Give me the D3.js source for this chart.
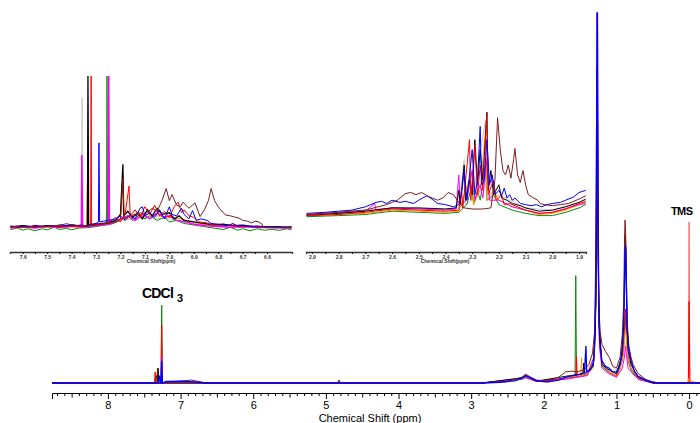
<!DOCTYPE html>
<html>
<head>
<meta charset="utf-8">
<script src="https://cdn.jsdelivr.net/npm/d3@7"></script>
<style>
  body { margin: 0; background: #fff; }
  svg { display: block; font-family: "Liberation Sans", Arial, sans-serif; }
</style>
</head>
<body>
<div id="chart"></div>
<script>
// ---- data: [ppm, intensity] ----
// main spectrum (intensity in % of the 1.26 ppm peak)
let mainTms = [[0.01,0],[0.0,43.5],[-0.01,0]];
let mainGreen = [[8.77,0],[7.27,0],[7.26,21],[7.25,0],[6.65,0],[2.85,0],[2.3,1],[2.25,1.5],[2.1,0.4],[1.7,1.2],[1.57,1.6],[1.56,29],[1.55,1.6],[1.4,2.2],[1.31,6],[1.28,22],[1.268,50],[1.262,65],[1.255,40],[1.24,14],[1.2,4.5],[1.1,2.8],[1.0,1.8],[0.92,6],[0.89,12],[0.875,18],[0.86,12],[0.84,6],[0.8,3.5],[0.7,1],[0.5,0],[-0.15,0]];
let mainRed = [[8.77,0],[7.36,0],[7.35,3],[7.34,0],[7.27,0],[7.26,15.7],[7.25,0],[7.0,0.4],[6.65,0],[4.83,0],[4.82,0.6],[4.81,0],[2.85,0],[2.3,1.2],[2.25,1.8],[2.1,0.5],[1.7,1.3],[1.56,1.8],[1.55,7.3],[1.54,1.8],[1.4,2.5],[1.31,7],[1.28,25],[1.268,55],[1.262,70],[1.255,45],[1.24,16],[1.2,5],[1.1,3],[1.0,2],[0.92,7],[0.89,14],[0.875,20],[0.86,14],[0.84,7],[0.8,4],[0.7,1.2],[0.5,0],[0.01,0],[0.0,22],[-0.01,0],[-0.15,0]];
let mainOrange = [[8.77,0],[7.33,0],[7.32,4],[7.31,0],[7.0,0.3],[6.65,0],[2.85,0],[2.3,1.2],[2.25,1.8],[2.1,0.5],[1.95,0.2],[1.7,1.2],[1.6,1.8],[1.49,2],[1.48,6.8],[1.47,2],[1.4,2.5],[1.32,4],[1.29,15],[1.27,55],[1.264,75],[1.258,70],[1.25,35],[1.235,12],[1.2,5],[1.1,3],[1.0,1.8],[0.95,3.5],[0.9,8],[0.88,14],[0.865,13],[0.845,7],[0.8,4],[0.7,1.3],[0.5,0],[0.02,0],[0.01,1.2],[0,0.5],[-0.15,0]];
let mainMagenta = [[8.77,0],[7.27,0],[7.26,6.8],[7.25,0],[6.65,0],[2.85,0],[2.25,1.4],[2.1,0.4],[1.7,1],[1.4,2],[1.31,6],[1.28,25],[1.266,100],[1.26,100],[1.252,35],[1.235,10],[1.2,4],[1.1,2.5],[1.0,1.5],[0.92,4],[0.89,7],[0.875,10],[0.86,7],[0.84,4],[0.8,3],[0.7,1],[0.5,0],[-0.15,0]];
let mainBlack = [[8.77,0],[7.32,0],[7.31,4],[7.3,0],[6.65,0],[2.85,0],[2.3,1.4],[2.25,2.1],[2.1,0.5],[1.7,1.8],[1.46,2.5],[1.45,5.4],[1.44,2.5],[1.32,4.5],[1.29,14],[1.275,40],[1.268,85],[1.262,84],[1.255,45],[1.24,16],[1.2,5],[1.1,3.5],[1.0,2.5],[0.93,7],[0.9,16],[0.885,35],[0.878,40],[0.87,36],[0.86,20],[0.84,9],[0.8,5],[0.7,1.5],[0.5,0],[-0.15,0]];
let mainBrown = [[8.77,0],[7.35,0],[7.33,2],[7.32,0],[7.0,0.5],[6.85,0.8],[6.65,0],[4.84,0],[4.82,0.8],[4.8,0],[2.85,0],[2.5,0.4],[2.3,1.6],[2.25,2.4],[2.2,1.8],[2.1,0.8],[1.95,0.5],[1.8,1.5],[1.7,3],[1.62,3.2],[1.55,3],[1.45,3.5],[1.38,5],[1.33,8],[1.3,14],[1.285,35],[1.275,70],[1.27,77],[1.262,75],[1.255,45],[1.245,22],[1.225,14],[1.2,10.5],[1.15,8.5],[1.1,7],[1.05,4.5],[1.0,4],[0.95,7],[0.92,13],[0.9,22],[0.888,40],[0.882,44],[0.875,42],[0.865,30],[0.85,16],[0.83,10],[0.8,7],[0.77,5],[0.7,2.5],[0.6,1],[0.5,0.3],[0.4,0],[-0.15,0]];
let mainBlue = [[8.77,0],[7.31,0],[7.29,2],[7.28,0],[7.27,0],[7.26,6],[7.25,0],[7.2,0.4],[7.0,0.5],[6.8,0.3],[6.65,0],[2.85,0],[2.6,0.2],[2.4,0.6],[2.3,1.3],[2.25,1.9],[2.2,1.5],[2.1,0.6],[1.95,0.3],[1.8,0.8],[1.7,1.5],[1.6,2],[1.5,2.4],[1.44,2.8],[1.42,10],[1.41,3],[1.36,3.5],[1.32,5],[1.3,10],[1.285,25],[1.275,55],[1.268,100],[1.262,100],[1.255,55],[1.245,25],[1.23,11],[1.2,6],[1.15,4.5],[1.1,4],[1.05,3],[1.0,3],[0.95,5],[0.92,9],[0.9,16],[0.885,30],[0.878,37],[0.872,36],[0.865,28],[0.85,14],[0.83,9],[0.8,6],[0.75,3],[0.7,1.8],[0.6,0.8],[0.5,0.2],[0.45,0],[-0.15,0]];

// aromatic inset 7.65 - 6.5 ppm
let aroGray = [[7.65,0.5],[7.5,0.8],[7.36,1],[7.358,1],[7.357,85.5],[7.355,1],[7.3,2],[7.26,3],[7.255,13],[7.25,3],[7.2,5],[7.1,7],[7.0,6],[6.9,3],[6.8,1],[6.65,0.5],[6.5,0]];
let aroGreen = [[7.65,-1],[7.62,0],[7.6,-1.5],[7.58,-0.5],[7.55,-1.8],[7.52,-0.5],[7.5,-1.2],[7.47,0.5],[7.45,-1],[7.42,-0.2],[7.4,-1.2],[7.37,0],[7.358,0],[7.357,26],[7.355,0],[7.32,0.5],[7.28,1.5],[7.257,2],[7.255,100],[7.253,2],[7.23,3],[7.2,5],[7.17,8],[7.15,5],[7.12,9],[7.1,6],[7.08,8],[7.05,5],[7.02,7],[7.0,4],[6.97,5],[6.94,3],[6.9,2],[6.86,1],[6.82,0],[6.78,-1],[6.75,0.5],[6.72,-1.5],[6.7,-0.5],[6.67,-1.8],[6.64,-0.5],[6.61,-1.5],[6.58,-0.8],[6.55,-1.6],[6.52,-0.5],[6.5,-1.2]];
let aroOrange = [[7.65,0],[7.5,0.5],[7.34,1],[7.334,35],[7.33,1],[7.26,2.5],[7.2,5],[7.188,34],[7.185,5],[7.15,8],[7.1,9],[7.05,8],[7.0,7],[6.95,6],[6.9,4],[6.85,2],[6.8,1],[6.7,0.5],[6.5,0]];
let aroMagenta = [[7.65,0],[7.6,0.8],[7.55,0],[7.5,1],[7.45,0.3],[7.4,1.2],[7.36,0.5],[7.358,48],[7.355,0.5],[7.3,1.5],[7.25,2.5],[7.248,100],[7.245,2.5],[7.22,4],[7.2,6],[7.17,8],[7.14,5],[7.11,9],[7.08,6],[7.05,10],[7.02,7],[7.0,8],[6.97,5],[6.93,4],[6.9,2.5],[6.85,1.5],[6.8,1],[6.75,0.5],[6.7,0.8],[6.6,0.3],[6.5,0]];
let aroBlack = [[7.65,0.8],[7.6,1.5],[7.55,0.8],[7.5,1.6],[7.45,1],[7.4,1.8],[7.36,1.2],[7.335,1.5],[7.333,100],[7.33,1.5],[7.3,2.5],[7.25,3.5],[7.22,5],[7.2,9],[7.19,42],[7.187,8],[7.17,11],[7.15,7],[7.13,10],[7.11,6],[7.09,12],[7.07,8],[7.05,13],[7.03,9],[7.0,10],[6.98,6],[6.96,8],[6.94,5],[6.9,4],[6.86,3],[6.82,2],[6.78,2.5],[6.74,1.5],[6.7,1.8],[6.66,1],[6.6,0.8],[6.55,0.5],[6.5,0.5]];
let aroRed = [[7.65,0.5],[7.62,1.2],[7.58,0.5],[7.55,1.5],[7.52,0.8],[7.48,1.3],[7.45,0.6],[7.42,1.5],[7.38,1],[7.34,1.5],[7.322,1.5],[7.32,100],[7.318,1.5],[7.29,2.5],[7.26,3],[7.24,4.5],[7.22,7],[7.2,4],[7.18,10],[7.165,27.6],[7.16,8],[7.14,12],[7.12,7],[7.1,14],[7.08,9],[7.06,15],[7.04,8],[7.02,11],[7.0,7],[6.98,14],[6.964,17],[6.95,10],[6.94,12],[6.92,8],[6.9,7],[6.88,4],[6.85,3.5],[6.82,2],[6.78,1.5],[6.74,2],[6.7,1],[6.66,1.2],[6.62,0.5],[6.58,0.8],[6.54,0.3],[6.5,0.5]];
let aroBlue = [[7.65,1.5],[7.62,0.5],[7.6,1.2],[7.57,0.8],[7.55,1.8],[7.52,1],[7.5,1.5],[7.47,1.2],[7.45,2],[7.42,1.5],[7.4,2.2],[7.38,1.6],[7.36,2],[7.34,1.5],[7.32,2.5],[7.3,3],[7.29,4],[7.288,56],[7.285,4],[7.27,4.5],[7.25,5],[7.22,6],[7.2,8],[7.18,5],[7.16,9],[7.14,6],[7.12,13],[7.11,14],[7.1,8],[7.08,10],[7.06,7],[7.04,12],[7.02,6],[7.0,14],[6.99,9],[6.97,8],[6.95,13],[6.94,9],[6.92,6],[6.905,11.5],[6.89,5],[6.87,6],[6.845,5],[6.83,3],[6.8,2.5],[6.78,2],[6.76,1.5],[6.74,3],[6.72,1.2],[6.7,1.5],[6.67,1],[6.64,1.3],[6.6,0.8],[6.56,1],[6.52,0.6],[6.5,0.8]];
let aroBrown = [[7.65,1],[7.6,0.5],[7.55,1.2],[7.5,1],[7.45,1.8],[7.42,2.8],[7.4,2],[7.36,1.5],[7.3,2],[7.25,3],[7.22,4],[7.2,6],[7.19,33],[7.185,6],[7.16,8],[7.12,10],[7.1,9],[7.07,13],[7.05,11],[7.03,18],[7.013,26],[7.0,18],[6.989,22],[6.97,15],[6.955,14],[6.944,17],[6.92,13],[6.895,16.5],[6.874,7.5],[6.855,12.5],[6.84,18],[6.829,26],[6.815,18],[6.8,14],[6.79,12],[6.77,8.5],[6.75,8],[6.739,7.5],[6.715,6.5],[6.7,5],[6.68,4.5],[6.663,3.3],[6.649,4.5],[6.637,4.2],[6.62,2.5],[6.616,0.5],[6.57,0.3],[6.5,0.2]];

// aliphatic inset 2.92 - 1.875 ppm
let aliGray = [[2.92,5],[2.6,11],[2.4,10],[2.35,11],[2.33,55],[2.325,14],[2.3,18],[2.25,91],[2.245,18],[2.2,23],[2.1,11],[2.0,9],[1.875,18]];
let aliGreen = [[2.92,3],[2.8,4],[2.7,5],[2.6,8],[2.5,7],[2.4,6],[2.35,7],[2.32,14],[2.3,32],[2.295,14],[2.28,27],[2.27,18],[2.25,50],[2.245,18],[2.22,23],[2.2,14],[2.15,9],[2.1,6],[2.05,4],[2.0,4],[1.95,7],[1.9,11],[1.875,14]];
let aliOrange = [[2.92,4],[2.7,6],[2.6,9],[2.5,8],[2.4,7],[2.35,8],[2.3,45],[2.295,14],[2.27,27],[2.25,82],[2.245,18],[2.22,27],[2.2,18],[2.15,12],[2.1,9],[2.05,5],[2.0,6],[1.95,9],[1.9,14],[1.875,16]];
let aliMagenta = [[2.92,5],[2.7,8],[2.665,15],[2.66,9],[2.6,11],[2.5,10],[2.4,9],[2.36,10],[2.35,41],[2.345,14],[2.32,18],[2.3,45],[2.29,18],[2.27,32],[2.26,20],[2.245,55],[2.235,18],[2.2,18],[2.15,12],[2.1,9],[2.05,6],[2.0,7],[1.9,14],[1.875,15]];
let aliBlack = [[2.92,4],[2.8,6],[2.7,8],[2.6,11],[2.5,11],[2.4,10],[2.36,11],[2.35,27],[2.345,14],[2.33,50],[2.325,18],[2.31,36],[2.3,23],[2.29,73],[2.28,32],[2.27,64],[2.26,36],[2.245,98],[2.24,27],[2.23,45],[2.22,23],[2.2,32],[2.19,20],[2.17,18],[2.15,15],[2.12,13],[2.1,11],[2.05,8],[2.0,9],[1.95,12],[1.9,16],[1.875,19]];
let aliRed = [[2.92,4],[2.8,5],[2.7,7],[2.6,10],[2.5,9],[2.4,8],[2.35,9],[2.34,27],[2.335,11],[2.31,73],[2.305,18],[2.29,68],[2.28,23],[2.27,50],[2.26,27],[2.245,97],[2.24,23],[2.22,36],[2.21,18],[2.19,23],[2.18,14],[2.16,15],[2.12,11],[2.1,9],[2.05,6],[2.0,7],[1.95,10],[1.9,15],[1.875,17]];
let aliBlue = [[2.92,6],[2.85,7],[2.8,8],[2.75,9],[2.7,12],[2.68,14],[2.66,16],[2.64,17],[2.62,15],[2.6,18],[2.57,16],[2.55,17],[2.52,15],[2.5,18],[2.47,22],[2.45,19],[2.43,15],[2.4,14],[2.37,12],[2.35,14],[2.34,23],[2.33,45],[2.32,18],[2.3,64],[2.29,23],[2.28,36],[2.27,85],[2.265,32],[2.255,36],[2.245,73],[2.235,32],[2.225,41],[2.215,23],[2.2,27],[2.19,22],[2.18,29],[2.17,20],[2.16,23],[2.15,18],[2.14,20],[2.12,15],[2.1,14],[2.08,13],[2.06,14],[2.04,12],[2.02,14],[2.0,15],[1.97,16],[1.95,18],[1.92,21],[1.9,25],[1.875,27]];
let aliBrown = [[2.92,5],[2.8,7],[2.7,9],[2.62,14],[2.58,18],[2.55,24],[2.53,25],[2.51,23],[2.49,25],[2.46,21],[2.43,18],[2.41,20],[2.39,25],[2.37,23],[2.35,16],[2.33,11],[2.3,10],[2.26,10],[2.23,11],[2.215,36],[2.205,93],[2.195,64],[2.185,45],[2.175,41],[2.165,50],[2.155,38],[2.145,55],[2.14,65],[2.13,41],[2.12,34],[2.11,45],[2.1,32],[2.09,23],[2.07,20],[2.055,18],[2.045,15],[2.03,14],[2.0,13],[1.97,14],[1.94,15],[1.9,19],[1.875,22]];

let mainTicks = [0,1,2,3,4,5,6,7,8];
let aroTicks = [7.6,7.5,7.4,7.3,7.2,7.1,7.0,6.9,6.8,6.7,6.6];
let aliTicks = [2.9,2.8,2.7,2.6,2.5,2.4,2.3,2.2,2.1,2.0,1.9];

let col = {gray:"#c8c8c8", green:"#0a8a0a", orange:"#ff9900", magenta:"#ff00ff", black:"#000000",
           red:"#ff0000", blue:"#0000ff", brown:"#7a1e1e", salmon:"#f07070"};

let width = 700, height = 423;
let svg = d3.select("#chart").append("svg")
    .attr("width", width).attr("height", height);

function panel(id, x, y, series, clip) {
    svg.append("clipPath").attr("id", id)
        .append("rect").attr("x", clip[0]).attr("y", clip[1])
        .attr("width", clip[2]).attr("height", clip[3]);
    let g = svg.append("g").attr("clip-path", "url(#" + id + ")");
    let line = d3.line().x(d => x(d[0])).y(d => y(d[1]));
    series.forEach(function (s) {
        g.append("path").datum(s[0])
            .attr("fill", "none")
            .attr("stroke", s[1])
            .attr("stroke-width", s[2] || 1)
            .attr("d", line);
    });
}

// main spectrum
let xMain = d3.scaleLinear().domain([8.77, -0.15]).range([52, 700]);
let yMain = d3.scaleLinear().domain([0, 100]).range([383, 13]);
panel("clipMain", xMain, yMain, [
    [mainTms, col.salmon], [mainGreen, col.green], [mainRed, col.red], [mainOrange, col.orange],
    [mainMagenta, col.magenta], [mainBlack, col.black], [mainBrown, col.brown], [mainBlue, col.blue, 1.3]
], [52, 12, 648, 380]);

// insets
let xAro = d3.scaleLinear().domain([7.652, 6.498]).range([10, 292]);
let yAro = d3.scaleLinear().domain([0, 100]).range([228, 76]);
panel("clipAro", xAro, yAro, [
    [aroGray, col.gray], [aroGreen, col.green], [aroOrange, col.orange], [aroMagenta, col.magenta, 1.5],
    [aroBlack, col.black, 1.3], [aroRed, col.red], [aroBlue, col.blue], [aroBrown, col.brown]
], [10, 76, 282, 170]);

let xAli = d3.scaleLinear().domain([2.922, 1.874]).range([306, 586]);
let yAli = d3.scaleLinear().domain([0, 100]).range([220, 110]);
panel("clipAli", xAli, yAli, [
    [aliGray, col.gray], [aliGreen, col.green], [aliOrange, col.orange], [aliMagenta, col.magenta],
    [aliBlack, col.black], [aliRed, col.red], [aliBlue, col.blue], [aliBrown, col.brown]
], [306, 105, 280, 140]);

// main axis
let axMajor = svg.append("g").attr("transform", "translate(0,393)")
    .call(d3.axisBottom(xMain).tickValues(mainTicks).tickSize(6).tickPadding(2).tickFormat(d3.format("d")));
axMajor.selectAll("text").attr("font-size", 11).attr("fill", "#000")
    .attr("font-family", "Liberation Sans, Arial, sans-serif");
axMajor.select(".domain").attr("stroke", "#000");
let minor = d3.range(-1, 88).map(d => d / 10).filter(d => d > -0.15 && d < 8.77 && Math.round(d * 10) % 10 !== 0);
let axMinor = svg.append("g").attr("transform", "translate(0,393)")
    .call(d3.axisBottom(xMain).tickValues(minor).tickSize(3).tickFormat(""));
axMinor.select(".domain").remove();
axMinor.selectAll(".tick line").filter(d => Math.round(d * 10) % 5 === 0).attr("y2", 4.5);

svg.append("text").attr("x", 370).attr("y", 422)
    .attr("text-anchor", "middle").attr("font-size", 11)
    .text("Chemical Shift (ppm)");

// inset axes
function insetAxis(x, ticks, cx) {
    let step = [];
    for (let i = 0; i < ticks.length - 1; i++) step.push((ticks[i] + ticks[i + 1]) / 2);
    let a = svg.append("g").attr("transform", "translate(0,252)")
        .call(d3.axisBottom(x).tickValues(ticks).tickSize(2).tickPadding(1).tickFormat(d3.format(".1f")));
    a.select(".domain").attr("stroke", "#333").attr("stroke-width", 1.3);
    a.selectAll("text").attr("font-size", 5).attr("font-weight", "bold").attr("fill", "#333");
    let b = svg.append("g").attr("transform", "translate(0,252)")
        .call(d3.axisBottom(x).tickValues(step).tickSize(2).tickFormat(""));
    b.select(".domain").remove();
    svg.append("text").attr("x", cx).attr("y", 263)
        .attr("text-anchor", "middle").attr("font-size", 5).attr("font-weight", "bold").attr("fill", "#333")
        .text("Chemical Shift(ppm)");
}
insetAxis(xAro, aroTicks, 151);
insetAxis(xAli, aliTicks, 445);

// peak labels
let lab = svg.append("text").attr("x", 142).attr("y", 298)
    .attr("font-size", 14).attr("font-weight", "bold").attr("letter-spacing", -0.8).text("CDCl");
lab.append("tspan").attr("dx", 4).attr("dy", 4).attr("font-size", 11).text("3");
svg.append("text").attr("x", 671).attr("y", 215)
    .attr("font-size", 11).attr("font-weight", "bold").attr("letter-spacing", -0.6).text("TMS");
</script>
</body>
</html>
